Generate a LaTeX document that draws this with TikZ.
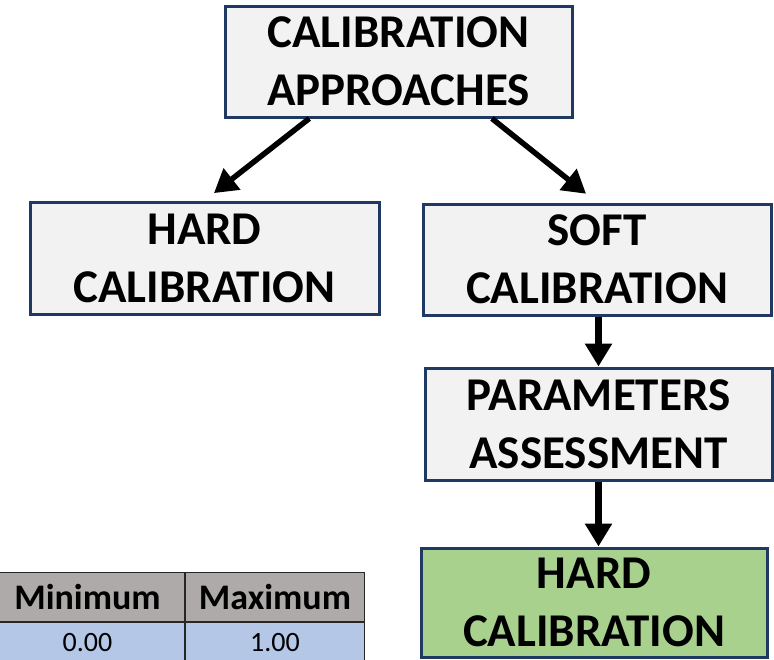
\documentclass[tikz,border=0pt]{standalone}
\usepackage{fontspec}
\setmainfont{Carlito}
\usetikzlibrary{arrows.meta,calc}
\definecolor{boxfill}{HTML}{F2F2F2}
\definecolor{boxline}{HTML}{1F3864}
\definecolor{greenfill}{HTML}{A9D18E}
\definecolor{headfill}{HTML}{AEAAAA}
\definecolor{bluefill}{HTML}{B4C7E7}
\tikzset{
  flowbox/.style={draw=boxline, line width=3pt, fill=boxfill, rectangle, align=center,
    inner sep=0pt, font=\fontsize{47}{58}\selectfont\bfseries},
  bigarrow/.style={line width=5.5pt, -{Triangle[width=26pt,length=23pt]}},
  hcell/.style={draw=black!85, line width=1pt, fill=headfill, inner sep=0pt, font=\fontsize{36}{40}\selectfont\bfseries},
  dcell/.style={draw=black!85, line width=1pt, fill=bluefill, inner sep=0pt, font=\fontsize{28}{34}\selectfont}
}
\begin{document}
\begin{tikzpicture}[x=1pt,y=-1pt]
\useasboundingbox (0,0) rectangle (774,659);
\node[flowbox, minimum width=347pt, minimum height=111pt] (top) at (398.5,61.5) {CALIBRATION\\APPROACHES};
\node[flowbox, minimum width=349pt, minimum height=112pt] (hard) at (204.5,258) {HARD\\CALIBRATION};
\node[flowbox, minimum width=348pt, minimum height=111pt] (soft) at (597,259.5) {SOFT\\CALIBRATION};
\node[flowbox, minimum width=347pt, minimum height=112pt] (param) at (598.5,424) {PARAMETERS\\ASSESSMENT};
\node[flowbox, fill=greenfill, minimum width=346pt, minimum height=109pt] (green) at (594,602.5) {HARD\\CALIBRATION};

\draw[bigarrow, shorten >=12pt] ($(top.south west)!0.245!(top.south east)$) -- (hard.north);
\draw[bigarrow, shorten >=14pt] ($(top.south west)!0.767!(top.south east)$) -- (soft.north);
\draw[bigarrow, line width=6.5pt] (soft.south -| param.south) -- (param.north);
\draw[bigarrow, line width=6.5pt] (param.south) -- (param.south |- green.north);

% table
\node[hcell, minimum width=194pt, minimum height=49pt, anchor=north west] (h1) at (-10,572) {Minimum};
\node[hcell, minimum width=179pt, minimum height=49pt, anchor=north west] (h2) at (h1.north east) {Maximum};
\node[dcell, minimum width=194pt, minimum height=41pt, anchor=north west] (d1) at (h1.south west) {0.00};
\node[dcell, minimum width=179pt, minimum height=41pt, anchor=north west] (d2) at (h2.south west) {1.00};
\end{tikzpicture}
\end{document}
